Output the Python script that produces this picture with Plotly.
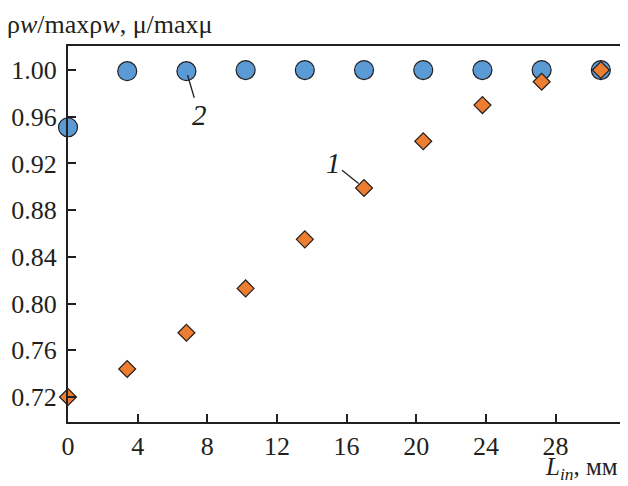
import plotly.graph_objects as go

x_vals = [0, 3.4, 6.8, 10.2, 13.6, 17.0, 20.4, 23.8, 27.2, 30.6]
mu_ratio = [0.951, 0.999, 0.999, 1.0, 1.0, 1.0, 1.0, 1.0, 1.0, 1.0]
rhow_ratio = [0.720, 0.744, 0.775, 0.813, 0.855, 0.899, 0.939, 0.970, 0.990, 1.000]
x_ticks = [0, 4, 8, 12, 16, 20, 24, 28]
y_ticks = [0.72, 0.76, 0.80, 0.84, 0.88, 0.92, 0.96, 1.00]

font = "Liberation Serif"
ink = "#231f20"

fig = go.Figure()
fig.add_trace(go.Scatter(
    x=x_vals, y=mu_ratio, mode="markers", cliponaxis=False,
    marker=dict(symbol="circle", size=19, color="#5b9bd5",
                line=dict(color=ink, width=1.2)),
    showlegend=False))
fig.add_trace(go.Scatter(
    x=x_vals, y=rhow_ratio, mode="markers", cliponaxis=False,
    marker=dict(symbol="diamond", size=13, color="#ed7d31",
                line=dict(color=ink, width=1.2)),
    showlegend=False))

anns = [
    dict(x=x_vals[2], y=mu_ratio[2], ax=13, ay=44, xref="x", yref="y",
         text="<i>2</i>", showarrow=True, arrowhead=0, arrowwidth=1.3,
         arrowcolor=ink, font=dict(family=font, size=29, color=ink), standoff=4),
    dict(x=x_vals[5], y=rhow_ratio[5], ax=-31, ay=-25, xref="x", yref="y",
         text="<i>1</i>", showarrow=True, arrowhead=0, arrowwidth=1.3,
         arrowcolor=ink, font=dict(family=font, size=29, color=ink), standoff=7),
    dict(text="ρ<i>w</i>/maxρ<i>w</i>, μ/maxμ", xref="paper", yref="paper",
         x=-0.114, y=1.101, xanchor="left", yanchor="top", showarrow=False,
         font=dict(family=font, size=26, color=ink)),
    dict(text="<i>L<sub>in</sub></i>, мм", xref="paper", yref="paper",
         x=1.0, y=-0.17, xanchor="right", yanchor="bottom", showarrow=False,
         font=dict(family=font, size=25, color=ink)),
]

fig.update_layout(
    width=620, height=478,
    margin=dict(l=60, r=8, t=38, b=64),
    plot_bgcolor="white", paper_bgcolor="white",
    font=dict(family=font, size=26, color=ink),
    annotations=anns,
)
fig.update_xaxes(range=[0, 31.7], tickvals=x_ticks, ticks="inside", ticklen=8,
                 tickwidth=1.5, tickcolor=ink, showline=True, linecolor=ink, linewidth=2,
                 mirror=True, showgrid=False, zeroline=False, automargin=False,
                 tickfont=dict(family=font, size=26, color=ink))
fig.update_yaxes(range=[0.6986, 1.0206], tickvals=y_ticks, tickformat=".2f",
                 ticks="inside", ticklen=8, tickwidth=1.5, tickcolor=ink, showline=True,
                 linecolor=ink, linewidth=2, mirror=True, showgrid=False,
                 zeroline=False, automargin=False, ticklabelstandoff=4,
                 tickfont=dict(family=font, size=26, color=ink))

fig.write_html("out.html")
